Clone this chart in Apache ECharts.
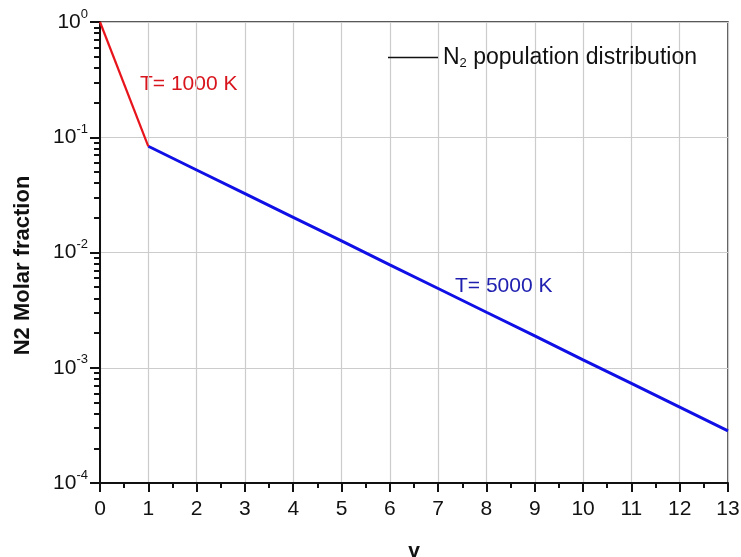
<!DOCTYPE html>
<html>
<head>
<meta charset="utf-8">
<script src="https://cdn.jsdelivr.net/npm/echarts@6/dist/echarts.min.js"></script>
<style>
  html, body { margin: 0; padding: 0; background: #fff; }
  #chart { width: 741px; height: 557px; }
</style>
</head>
<body>
<div id="chart"></div>
<script>
// T = 1000 K segment
var vLow = [0, 1];
var fracLow = [1.0, 0.0835];
// T = 5000 K segment
var vHigh = [1, 2, 3, 4, 5, 6, 7, 8, 9, 10, 11, 12, 13];
var fracHigh = [0.0835, 0.0520, 0.0324, 0.0202, 0.0126, 0.00782, 0.00487,
                0.00303, 0.00189, 0.00117, 0.000731, 0.000455, 0.000283];
var yTickExp = [-4, -3, -2, -1, 0];

// minor log ticks (2..9 per decade), placed on a hidden linear axis in log10 space
var minorPos = [];
for (var e = -4; e < 0; e++) {
  for (var k = 2; k <= 9; k++) minorPos.push(e + Math.log10(k));
}

function pairs(xs, ys) {
  return xs.map(function (x, i) { return [x, ys[i]]; });
}

var chart = echarts.init(document.getElementById('chart'));

var font = 'Liberation Sans, Arial, sans-serif';

var option = {
  animation: false,
  grid: {
    left: 100, right: 13, top: 22, bottom: 74,
    outerBoundsMode: 'none',
    show: true, borderColor: '#222', borderWidth: 1.5, backgroundColor: 'transparent'
  },
  legend: {
    left: 383, top: 41,
    data: ['N2 population distribution'],
    icon: 'rect',
    itemWidth: 50, itemHeight: 1.5,
    itemGap: 8,
    formatter: function () {
      return '{a|N}{s|2}{a| population distribution}';
    },
    textStyle: {
      rich: {
        a: { fontSize: 23, fontFamily: font, color: '#111' },
        s: { fontSize: 13, fontFamily: font, color: '#111', verticalAlign: 'bottom', padding: [12, 0, 0, 0] }
      }
    }
  },
  xAxis: {
    type: 'value', min: 0, max: 13, interval: 1,
    name: 'v', nameLocation: 'middle', nameGap: 58,
    nameTextStyle: { fontSize: 21, fontWeight: 'bold', fontFamily: font, color: '#111' },
    axisLine: { show: true, onZero: false, lineStyle: { color: '#111', width: 2 } },
    axisTick: { show: true, length: 9, lineStyle: { color: '#111', width: 2 } },
    minorTick: { show: true, splitNumber: 2, length: 5, lineStyle: { color: '#111', width: 2 } },
    axisLabel: { fontSize: 21, fontFamily: font, color: '#111', margin: 16 },
    splitLine: { show: true, lineStyle: { color: '#cccccc', width: 1.2 } }
  },
  yAxis: [{
    type: 'log', logBase: 10, min: 1e-4, max: 1,
    name: 'N2 Molar fraction', nameLocation: 'middle', nameGap: 66,
    nameTextStyle: { fontSize: 22, fontWeight: 'bold', fontFamily: font, color: '#111', padding: [0, 26, 0, 0] },
    axisLine: { show: true, lineStyle: { color: '#111', width: 2 } },
    axisTick: { show: true, length: 10, lineStyle: { color: '#111', width: 2 } },
    axisLabel: {
      margin: 12, fontFamily: font,
      formatter: function (val) {
        var ex = Math.round(Math.log10(val));
        if (yTickExp.indexOf(ex) < 0) return '';
        return '{b|10}{s|' + ex + '}';
      },
      rich: {
        b: { fontSize: 21, fontFamily: font, color: '#111' },
        s: { fontSize: 13, fontFamily: font, color: '#111', verticalAlign: 'top', padding: [0, 0, 16, 0] }
      }
    },
    splitLine: { show: true, lineStyle: { color: '#cccccc', width: 1.2 } }
  }, {
    type: 'value', min: -4, max: 0, position: 'left',
    axisLine: { show: false },
    axisLabel: { show: false },
    splitLine: { show: false },
    axisTick: { show: true, length: 6, customValues: minorPos, lineStyle: { color: '#111', width: 2 } }
  }],
  series: [{
    name: 'T= 1000 K', type: 'line', data: pairs(vLow, fracLow),
    showSymbol: false, symbol: 'none',
    lineStyle: { color: '#e8141c', width: 2.2 }, itemStyle: { color: '#e8141c' }, z: 3
  }, {
    name: 'T= 5000 K', type: 'line', data: pairs(vHigh, fracHigh),
    showSymbol: false, symbol: 'none',
    lineStyle: { color: '#1010e6', width: 3 }, itemStyle: { color: '#1010e6' }, z: 2
  }, {
    name: 'N2 population distribution', type: 'line', data: [],
    itemStyle: { color: '#111' }, lineStyle: { color: '#111' }
  }],
  graphic: [{
    type: 'text', left: 140, top: 74,
    style: { text: 'T= 1000 K', fontSize: 21, fontFamily: font, fill: '#d8141c' }
  }, {
    type: 'text', left: 455, top: 276,
    style: { text: 'T= 5000 K', fontSize: 21, fontFamily: font, fill: '#2020b0' }
  }]
};

chart.setOption(option);
window.addEventListener('resize', function () { chart.resize(); });
</script>
</body>
</html>
